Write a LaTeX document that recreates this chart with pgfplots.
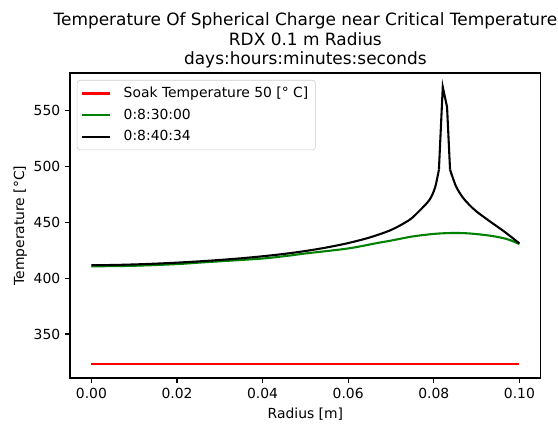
\documentclass[border=0pt]{standalone}
\usepackage{pgfplots}
\pgfplotsset{compat=1.18}
\usepackage{fontspec}
\setmainfont{DejaVu Sans}
\begin{document}
\begin{tikzpicture}
\begin{axis}[
  scale only axis,
  width=339pt, height=219.6pt,
  xmin=-0.005, xmax=0.105,
  ymin=310.6, ymax=583.4,
  xtick={0,0.02,0.04,0.06,0.08,0.1},
  ytick={350,400,450,500,550},
  xticklabel style={/pgf/number format/fixed,/pgf/number format/fixed zerofill,/pgf/number format/precision=2},
  scaled x ticks=false,
  /pgf/number format/assume math mode=true,
  tick label style={font=\fontsize{10}{12}\selectfont},
  tick align=outside, tick pos=left,
  major tick length=3.5pt,
  axis line style={line width=0.8pt},
  every tick/.style={line width=0.8pt, black},
  xlabel={Radius [m]}, ylabel={Temperature [°C]},
  ylabel style={xshift=0pt, yshift=-2pt},
  label style={font=\fontsize{10}{12}\selectfont},
  title={Temperature Of Spherical Charge near Critical Temperature\\RDX 0.1 m Radius\\days:hours:minutes:seconds},
  title style={align=center, font=\fontsize{12.2}{14}\selectfont, yshift=-6pt},
  legend cell align=left,
  legend style={at={(0,1)}, anchor=north west, xshift=5pt, yshift=-5pt,
    draw=black!20, rounded corners=2pt, font=\fontsize{10}{12}\selectfont,
    row sep=2.6pt, inner sep=3pt},
  legend image code/.code={\draw[#1, line width=1.5pt] (0cm,0cm) -- (20pt,0cm); \path (27pt,0pt);},
]
\addplot[red, line width=1.5pt] coordinates {(0,323.15) (0.1,323.15)};
\addlegendentry{Soak Temperature 50 [° C]}
\addplot[color={rgb,1:red,0;green,0.5;blue,0}, line width=1.5pt, smooth] coordinates {
(0,410.5) (0.01,411) (0.02,412.5) (0.025,413.8) (0.03,415) (0.04,417.5) (0.046,420)
(0.05,422) (0.06,426.5) (0.067,431.5) (0.07,433.5) (0.075,437.2) (0.08,439.5)
(0.084,440.3) (0.088,440) (0.093,438) (0.097,435) (0.1,430.5)};
\addlegendentry{0:8:30:00}
\addplot[black, line width=1.5pt, smooth, tension=0.5] coordinates {
(0,411.5) (0.005,411.7) (0.01,412.2) (0.015,412.9) (0.02,413.8) (0.025,414.9)
(0.03,416.2) (0.035,417.7) (0.04,419.5) (0.045,421.6) (0.05,424.2) (0.055,427.4)
(0.06,431.3) (0.065,436.3) (0.07,443.0) (0.0743,452) (0.0766,460) (0.079,470)
(0.0803,481) (0.0812,497)};
\addlegendentry{0:8:40:34}
\addplot[black, line width=1.5pt, forget plot] coordinates {
(0.0812,497) (0.0821,571) (0.0831,553) (0.0838,497)};
\addplot[black, line width=1.5pt, smooth, tension=0.5, forget plot] coordinates {
(0.0838,497) (0.0852,482) (0.0868,472) (0.0883,465.5) (0.09,459.5)
(0.093,451) (0.0965,441.5) (0.1,431)};
\end{axis}
\pgfresetboundingbox
\path[use as bounding box] (-50.4pt,-32.4pt) rectangle (351.4pt,272.2pt);
\end{tikzpicture}
\end{document}
